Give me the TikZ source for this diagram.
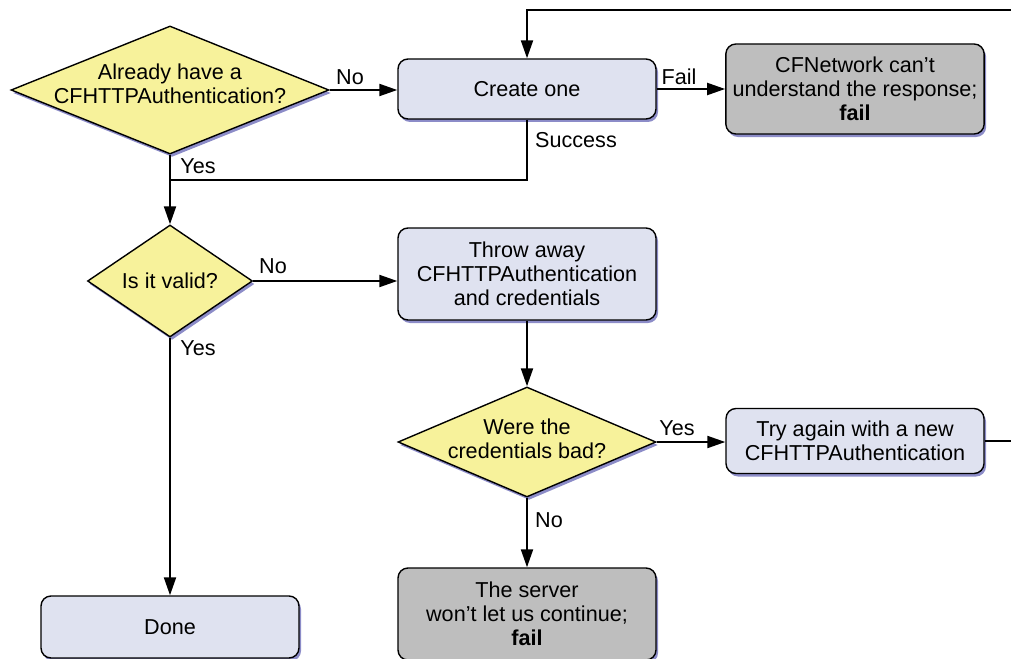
\documentclass[tikz,border=0pt]{standalone}
\usepackage{fontspec}
\setmainfont{Liberation Sans}
\usetikzlibrary{arrows.meta, shapes, shadows}
\usetikzlibrary{positioning}
\definecolor{preguntaamarilla}{HTML}{F7F29B}
\definecolor{cajaazul}{HTML}{DFE2F0}
\definecolor{cajagris}{HTML}{BEBEBE}
\definecolor{sombra}{HTML}{8C8CC8}

\begin{document}
\begin{tikzpicture}[x=0.5pt, y=-0.5pt,
		font=\fontsize{10.8}{12}\selectfont,
		sombreado/.style={drop shadow={shadow xshift=1pt, shadow yshift=-1.5pt, fill=sombra, opacity=1}},
		caja/.style={draw, rounded corners=5pt, fill=cajaazul, minimum width=129pt, align=center, line width=0.7pt, sombreado},
		cajafallo/.style={caja, fill=cajagris},
		pregunta/.style={diamond, draw, fill=preguntaamarilla, inner sep=0pt, line width=0.7pt, sombreado},
		flecha/.style={-{Triangle[length=9pt, width=6pt]}, line width=1pt},
		linea/.style={line width=1pt},
		etiqueta/.style={inner sep=0pt}]
				\useasboundingbox (0,0) rectangle (1011,658);
				% Nodos
				\node[pregunta, minimum width=159pt, minimum height=64pt, label={[align=center, yshift=3pt]center:Already have a\\CFHTTPAuthentication?}] (have) at (170,90) {};
				\node[caja, minimum height=30pt] (create) at (527,89) {Create one};
				\node[cajafallo, minimum height=45pt] (cantparse) at (855,89) {CFNetwork can't\\understand the response;\\\textbf{fail}};
				\node[pregunta, minimum width=82.5pt, minimum height=56pt, label={center:Is it valid?}] (valid) at (170,281) {};
				\node[caja, minimum height=46pt] (throw) at (527,274) {Throw away\\CFHTTPAuthentication\\and credentials};
				\node[pregunta, minimum width=129pt, minimum height=55pt, label={[align=center, yshift=1.5pt]center:Were the\\credentials bad?}] (bad) at (527,442) {};
				\node[caja, minimum height=32.5pt] (retry) at (855,441) {Try again with a new\\CFHTTPAuthentication};
				\node[cajafallo, minimum height=46pt] (server) at (527,614) {The server\\won't let us continue;\\\textbf{fail}};
				\node[caja, minimum height=31pt] (done) at (170,627) {Done};
				\coordinate (join) at (170,180);
				\coordinate (looptop) at (1020,10);
				% Etiquetas
				\node[etiqueta] (nohave) at (350,77) {No};
				\node[etiqueta] (failcreate) at (679,77) {Fail};
				\node[etiqueta] (success) at (576,140) {Success};
				\node[etiqueta] (yeshave) at (198,166) {Yes};
				\node[etiqueta] (novalid) at (273,266) {No};
				\node[etiqueta] (yesvalid) at (198,348) {Yes};
				\node[etiqueta] (yesbad) at (677,428) {Yes};
				\node[etiqueta] (nobad) at (549,520) {No};
				% Flechas
				\draw[flecha] (have.east) -- (have.east -| create.west);
				\draw[flecha] (create.east) -- (cantparse.west);
				\draw[linea] (create.south) |- (join);
				\draw[flecha] (have.south) -- (valid.north);
				\draw[flecha] (valid.east) -- (valid.east -| throw.west);
				\draw[flecha] (throw.south) -- (bad.north);
				\draw[flecha] (bad.east) -- (bad.east -| retry.west);
				\draw[flecha] (bad.south) -- (server.north);
				\draw[flecha] (valid.south) -- (done.north);
				\draw[flecha] (retry.east) -| (looptop) -| (create.north);
			\end{tikzpicture}
\end{document}
